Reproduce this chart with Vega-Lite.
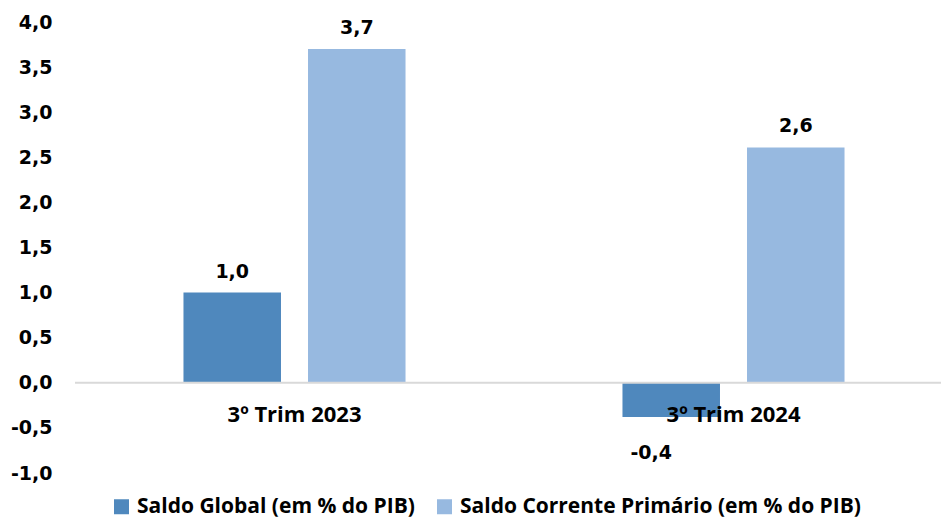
{
  "$schema": "https://vega.github.io/schema/vega-lite/v6.json",
  "width": 866,
  "height": 451,
  "autosize": {"type": "none"},
  "padding": {"left": 75, "top": 22, "right": 0, "bottom": 47},
  "background": "white",
  "config": {
    "view": {"stroke": null},
    "locale": {"number": {"decimal": ",", "thousands": ".", "grouping": [3], "currency": ["R$ ", ""], "minus": "-"}}
  },
  "data": {
    "values": [
      {"periodo": "3º Trim 2023", "serie": "Saldo Global (em % do PIB)", "valor": 1.0},
      {"periodo": "3º Trim 2023", "serie": "Saldo Corrente Primário (em % do PIB)", "valor": 3.7},
      {"periodo": "3º Trim 2024", "serie": "Saldo Global (em % do PIB)", "valor": -0.38},
      {"periodo": "3º Trim 2024", "serie": "Saldo Corrente Primário (em % do PIB)", "valor": 2.61}
    ]
  },
  "layer": [
    {
      "mark": {"type": "bar"},
      "encoding": {
        "x": {
          "field": "periodo", "type": "nominal", "sort": null,
          "scale": {"range": [0, 878], "paddingInner": 0, "paddingOuter": 0},
          "axis": {
            "orient": "bottom", "offset": -90.25, "domain": false, "ticks": false, "title": null, "zindex": 1,
            "labelFont": "Open Sans", "labelFontWeight": "bold", "labelFontSize": 22, "labelColor": "#000000",
            "labelPadding": 39, "labelBaseline": "alphabetic", "labelAngle": 0
          }
        },
        "xOffset": {
          "field": "serie", "type": "nominal",
          "sort": ["Saldo Global (em % do PIB)", "Saldo Corrente Primário (em % do PIB)"],
          "scale": {"paddingInner": 0.217, "paddingOuter": 0.871}
        },
        "y": {
          "field": "valor", "type": "quantitative",
          "scale": {"domain": [-1, 4], "nice": false, "zero": false},
          "axis": {
            "values": [-1, -0.5, 0, 0.5, 1, 1.5, 2, 2.5, 3, 3.5, 4],
            "format": ".1f", "grid": false, "domain": false, "ticks": false, "title": null,
            "labelFont": "DejaVu Sans", "labelFontWeight": "bold", "labelFontSize": 19,
            "labelColor": "#000000", "labelPadding": 23
          }
        },
        "color": {
          "field": "serie", "type": "nominal",
          "scale": {
            "domain": ["Saldo Global (em % do PIB)", "Saldo Corrente Primário (em % do PIB)"],
            "range": ["#4F88BD", "#97B9E0"]
          },
          "legend": {
            "orient": "none", "legendX": 36, "legendY": 474, "direction": "horizontal", "title": null,
            "symbolType": "square", "symbolSize": 225, "symbolStrokeWidth": 0,
            "labelFont": "Open Sans", "labelFontWeight": "bold", "labelFontSize": 21, "labelColor": "#000000",
            "labelOffset": 5, "columnPadding": 19, "labelLimit": 0
          }
        }
      }
    },
    {
      "data": {"values": [{"zero": 0}]},
      "mark": {"type": "rule", "color": "#D9D9D9", "strokeWidth": 2},
      "encoding": {"y": {"field": "zero", "type": "quantitative"}}
    },
    {
      "transform": [{"filter": "datum.valor >= 0"}],
      "mark": {"type": "text", "font": "DejaVu Sans", "fontWeight": "bold", "fontSize": 19, "baseline": "alphabetic", "dy": -15, "color": "#000000"},
      "encoding": {
        "x": {"field": "periodo", "type": "nominal", "sort": null},
        "xOffset": {"field": "serie", "type": "nominal", "sort": ["Saldo Global (em % do PIB)", "Saldo Corrente Primário (em % do PIB)"]},
        "y": {"field": "valor", "type": "quantitative"},
        "text": {"field": "valor", "type": "quantitative", "format": ".1f"}
      }
    },
    {
      "transform": [{"filter": "datum.valor < 0"}],
      "mark": {"type": "text", "font": "DejaVu Sans", "fontWeight": "bold", "fontSize": 19, "baseline": "alphabetic", "dy": 42, "dx": -20, "color": "#000000"},
      "encoding": {
        "x": {"field": "periodo", "type": "nominal", "sort": null},
        "xOffset": {"field": "serie", "type": "nominal", "sort": ["Saldo Global (em % do PIB)", "Saldo Corrente Primário (em % do PIB)"]},
        "y": {"field": "valor", "type": "quantitative"},
        "text": {"field": "valor", "type": "quantitative", "format": ".1f"}
      }
    }
  ]
}
